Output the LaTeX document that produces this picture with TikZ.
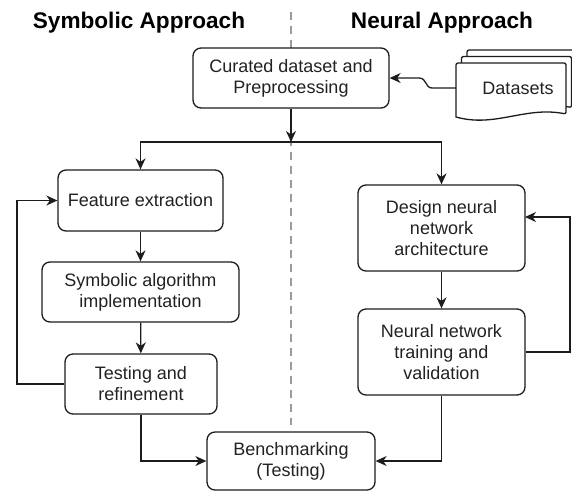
\documentclass[tikz,border=0pt]{standalone}
\usepackage{fontspec}
\setmainfont{Liberation Sans}
\usetikzlibrary{arrows.meta}
\definecolor{linec}{HTML}{1C1C1C}
\definecolor{textc}{HTML}{222222}
\definecolor{dashc}{HTML}{9A9A9A}
\newcommand\mydocpath[2]{%
  \filldraw[fill=white, draw=linec, line width=1.3pt, rounded corners=2pt]
    (#1,#2) -- ({#1+110},#2) -- ({#1+110},{#2+51})
    [sharp corners] .. controls ({#1+69},{#2+43}) and ({#1+39},{#2+65}) .. (#1,{#2+54}) [rounded corners=2pt] -- cycle;}
\begin{document}
\begin{tikzpicture}[x=1pt,y=-1pt,
  box/.style={draw=linec, line width=1.3pt, rounded corners=8pt, fill=white,
    align=center, inner sep=0pt, font=\fontsize{18}{21}\selectfont, text=textc},
  arr/.style={draw=linec, line width=1.3pt, -{Stealth[length=11pt,width=10pt,inset=3.5pt]}},
  ttl/.style={font=\bfseries\fontsize{22.6}{26}\selectfont, anchor=base, text=black}]
\useasboundingbox (0,0) rectangle (572,491);

% titles
\node[ttl] (tsym) at (139,28) {Symbolic Approach};
\node[ttl] (tneu) at (442,28) {Neural Approach};

% divider
\coordinate (dtop) at (291,12);
\coordinate (dbot) at (291,425);
\draw[dashc, line width=2.4pt, dash pattern=on 8pt off 6pt] (dtop) -- (dbot);

% boxes
\node[box, minimum width=196pt, minimum height=60pt] (cur) at (291,78) {Curated dataset and\\Preprocessing};
\node[box, minimum width=165pt, minimum height=61pt] (feat) at (140.5,200.5) {Feature extraction};
\node[box, minimum width=197pt, minimum height=60pt] (sym) at (140.5,292) {Symbolic algorithm\\implementation};
\node[box, minimum width=152pt, minimum height=60pt] (test) at (141,384) {Testing and\\refinement};
\node[box, minimum width=168pt, minimum height=58pt] (bench) at (291,461) {Benchmarking\\(Testing)};
\node[box, minimum width=167pt, minimum height=86pt] (des) at (441.5,228) {Design neural\\network\\architecture};
\node[box, minimum width=167pt, minimum height=86pt] (train) at (441.5,352) {Neural network\\training and\\validation};

% datasets stack
\begin{scope}
\clip (0,0) rectangle (572,491);
\mydocpath{467}{50}
\mydocpath{461.5}{56.5}
\mydocpath{456}{63}
\end{scope}
\node[font=\fontsize{18}{21}\selectfont, text=textc, inner sep=0pt] (ds) at (518,88) {Datasets};
\coordinate (dsin) at (456,88);

% connectors
\draw[arr] (dsin) -- (432,88) .. controls (425,88) and (427,78) .. (419,78) -- (cur.east);
\coordinate (split) at (291,142);
\draw[arr] (cur.south) -- (split);
\draw[arr] (split) -| (feat.north);
\draw[arr] (split) -| (des.north);
\draw[arr] (feat) -- (sym);
\draw[arr] (sym) -- (test);
\draw[arr] (des) -- (train);
\coordinate (lloop) at (17,384);
\draw[arr] (test.west) -- (lloop) |- (feat.west);
\coordinate (rloop) at (570,352);
\coordinate (desin) at (525,217);
\draw[arr] (train.east) -- (rloop) |- (desin);
\draw[arr] (test.south) |- (bench.west);
\draw[arr] (train.south) |- (bench.east);
\end{tikzpicture}
\end{document}
